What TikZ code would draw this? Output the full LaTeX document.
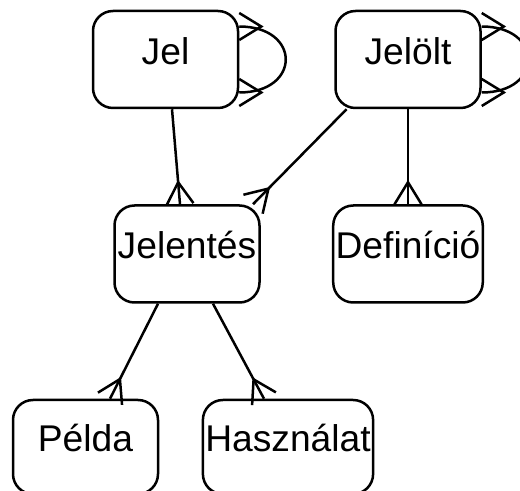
\documentclass[tikz,border=0pt]{standalone}
\usepackage{fontspec}
\setmainfont{Liberation Sans}
\usetikzlibrary{positioning,arrows.meta}

% crow's foot: three prongs meeting a little way off the box
\pgfdeclarearrow{
  name = Crow Foot,
  defaults = {length = 11pt, width = 13.5pt},
  parameters = {\the\pgfarrowlength,\the\pgfarrowwidth},
  setup code = {
    \pgfarrowssettipend{0pt}
    \pgfarrowssetlineend{0pt}
    \pgfarrowssetbackend{-\pgfarrowlength}
    \pgfarrowssetvisualbackend{-\pgfarrowlength}
    \pgfarrowsupperhullpoint{-\pgfarrowlength}{.5\pgfarrowwidth}
    \pgfarrowsupperhullpoint{0pt}{.5\pgfarrowwidth}
    \pgfarrowssavethe\pgfarrowlength
    \pgfarrowssavethe\pgfarrowwidth
  },
  drawing code = {
    \pgfsetdash{}{+0pt}
    \pgfpathmoveto{\pgfqpoint{0pt}{.5\pgfarrowwidth}}
    \pgfpathlineto{\pgfqpoint{-\pgfarrowlength}{0pt}}
    \pgfpathlineto{\pgfqpoint{0pt}{-.5\pgfarrowwidth}}
    \pgfusepathqstroke
  }
}

\tikzset{
->,
>={Crow Foot},
node distance=47.5pt,
entity/.style={draw, rounded corners=10pt, minimum width=72.5pt, minimum height=48.5pt,
  inner sep=1.2pt, text height=0.75em, text depth=0.25em, font=\fontsize{18.6}{22}\selectfont},
}
\begin{document}
\begin{tikzpicture}[x=0.5pt,y=-0.5pt,line width=1.25pt]
    \useasboundingbox (0,0) rectangle (520,491);
    \node[entity] (jel) at (165.5,59.5) {Jel};
    \node[entity,right=of jel] (jelolt) {Jelölt};
    \node[entity,below=of jel,xshift=10.75pt] (jelentes) {Jelentés};
    \node[entity,below=of jelolt] (definicio) {Definíció};
    \node[entity,minimum height=47pt,below=of jelentes,xshift=-50.75pt] (pelda) {Példa};
    \node[entity,minimum height=47pt,below=of jelentes,xshift=50.5pt] (hasznalat) {Használat};

    \draw ([xshift=3.25pt]jel.south) -- ([xshift=-3.5pt]jelentes.north);
    \draw (jelolt.-141) -- (jelentes.37);
    \draw (jelolt) -- (definicio);
    \draw ([xshift=-14.5pt]jelentes.south) -- ([xshift=12.25pt]pelda.north);
    \draw ([xshift=13pt]jelentes.south) -- ([xshift=-12pt]hasznalat.north);
    \draw[<->] ([yshift=16.5pt]jel.east) .. controls +(62,0) and +(62,0) .. ([yshift=-16.5pt]jel.east);
    \draw[<->] ([yshift=16.5pt]jelolt.east) .. controls +(62,0) and +(62,0) .. ([yshift=-16.5pt]jelolt.east);
\end{tikzpicture}
\end{document}
